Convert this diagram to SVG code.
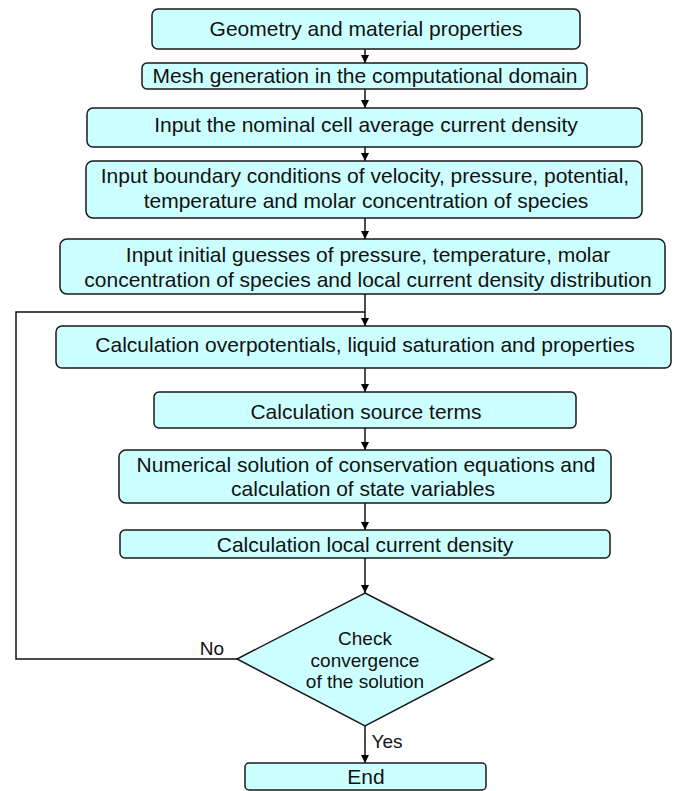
<svg xmlns="http://www.w3.org/2000/svg" width="673" height="791" viewBox="0 0 673 791">
<defs>
<marker id="arr" viewBox="0 0 10 10" refX="10" refY="5" markerWidth="8" markerHeight="8" markerUnits="userSpaceOnUse" orient="auto">
<path d="M0,0 L10,5 L0,10 z" fill="#000"/>
</marker>
<style>
.box{fill:#CCFFFF;stroke:#1a1a1a;stroke-width:1.5}
.t{font-family:"Liberation Sans",Arial,sans-serif;font-size:21px;fill:#111;text-anchor:middle}
.d{font-family:"Liberation Sans",Arial,sans-serif;font-size:19px;fill:#111;text-anchor:middle}
.c{fill:none;stroke:#111;stroke-width:1.5}
</style>
</defs>
<rect width="673" height="791" fill="#fff"/>
<g id="connectors">
<line class="c" x1="365" y1="49" x2="365" y2="63" marker-end="url(#arr)"/>
<line class="c" x1="365" y1="89" x2="365" y2="108" marker-end="url(#arr)"/>
<line class="c" x1="365" y1="147" x2="365" y2="161" marker-end="url(#arr)"/>
<line class="c" x1="365" y1="218" x2="365" y2="239" marker-end="url(#arr)"/>
<line class="c" x1="365" y1="294" x2="365" y2="326" marker-end="url(#arr)"/>
<line class="c" x1="365" y1="368" x2="365" y2="392" marker-end="url(#arr)"/>
<line class="c" x1="365" y1="428" x2="365" y2="450" marker-end="url(#arr)"/>
<line class="c" x1="365" y1="503" x2="365" y2="530" marker-end="url(#arr)"/>
<line class="c" x1="365" y1="558" x2="365" y2="593" marker-end="url(#arr)"/>
<line class="c" x1="365" y1="726" x2="365" y2="763" marker-end="url(#arr)"/>
<polyline class="c" points="237,659 16,659 16,312 365,312"/>
<text class="d" x="212" y="655">No</text>
<text class="d" x="387" y="748">Yes</text>
</g>
<g id="n1"><rect class="box" x="152" y="9" width="428" height="40" rx="6"/><text class="t" x="366" y="36">Geometry and material properties</text></g>
<g id="n2"><rect class="box" x="142" y="63" width="445" height="26" rx="5"/><text class="t" x="365" y="83">Mesh generation in the computational domain</text></g>
<g id="n3"><rect class="box" x="87" y="108" width="555" height="39" rx="6"/><text class="t" x="366" y="132">Input the nominal cell average current density</text></g>
<g id="n4"><rect class="box" x="86" y="161" width="556" height="57" rx="7"/><text class="t" x="365" y="183">Input boundary conditions of velocity, pressure, potential,</text><text class="t" x="366" y="208">temperature and molar concentration of species</text></g>
<g id="n5"><rect class="box" x="60" y="239" width="605" height="55" rx="7"/><text class="t" x="368" y="262">Input initial guesses of pressure, temperature, molar</text><text class="t" x="368" y="287">concentration of species and local current density distribution</text></g>
<g id="n6"><rect class="box" x="56" y="326" width="615" height="42" rx="6"/><text class="t" x="365" y="352">Calculation overpotentials, liquid saturation and properties</text></g>
<g id="n7"><rect class="box" x="154" y="392" width="422" height="36" rx="5"/><text class="t" x="366" y="419">Calculation source terms</text></g>
<g id="n8"><rect class="box" x="119" y="450" width="492" height="53" rx="7"/><text class="t" x="366" y="472">Numerical solution of conservation equations and</text><text class="t" x="363" y="496">calculation of state variables</text></g>
<g id="n9"><rect class="box" x="120" y="530" width="490" height="28" rx="5"/><text class="t" x="365" y="552">Calculation local current density</text></g>
<g id="n10"><polygon class="box" points="365,593 493,659 365,726 237,659"/><text class="d" x="365" y="645">Check</text><text class="d" x="365" y="667">convergence</text><text class="d" x="365" y="688">of the solution</text></g>
<g id="n11"><rect class="box" x="245" y="763" width="241" height="27" rx="4"/><text class="t" x="366" y="784">End</text></g>
</svg>
